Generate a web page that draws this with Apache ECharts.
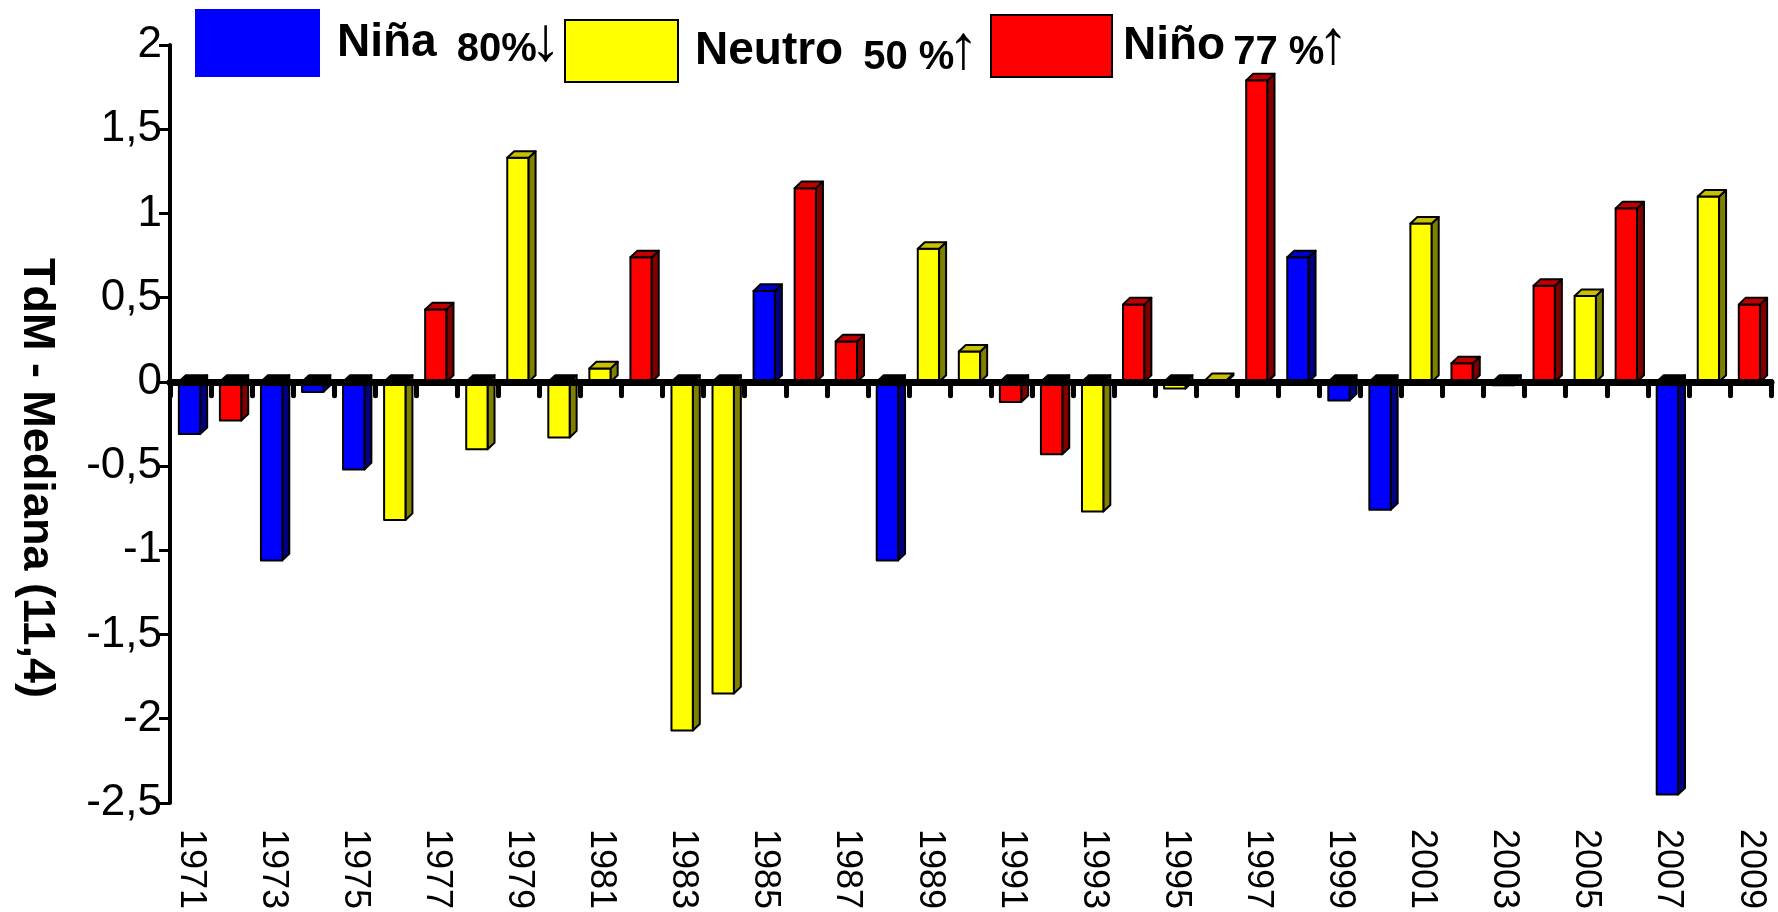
<!DOCTYPE html>
<html><head><meta charset="utf-8">
<script src="https://cdn.jsdelivr.net/npm/echarts@6/dist/echarts.min.js"></script>
<style>html,body{margin:0;padding:0;background:#fff}#c{width:1778px;height:912px}</style>
</head><body><div id="c"></div><script>
// ---- data ----
const years = ['1971','1972','1973','1974','1975','1976','1977','1978','1979','1980',
               '1981','1982','1983','1984','1985','1986','1987','1988','1989','1990',
               '1991','1992','1993','1994','1995','1996','1997','1998','1999','2000',
               '2001','2002','2003','2004','2005','2006','2007','2008','2009'];
const values = [-0.31,-0.23,-1.06,-0.06,-0.52,-0.82, 0.43,-0.40, 1.33,-0.33,
                 0.08, 0.74,-2.07,-1.85, 0.54, 1.15, 0.24,-1.06, 0.79, 0.18,
                -0.12,-0.43,-0.77, 0.46,-0.04, 0.01, 1.79, 0.74,-0.11,-0.76,
                 0.94, 0.11,-0.02, 0.57, 0.51, 1.03,-2.45, 1.10, 0.46];
const phase  = ['Niña','Niño','Niña','Niña','Niña','Neutro','Niño','Neutro','Neutro','Neutro',
                'Neutro','Niño','Neutro','Neutro','Niña','Niño','Niño','Niña','Neutro','Neutro',
                'Niño','Niño','Neutro','Niño','Neutro','Neutro','Niño','Niña','Niña','Niña',
                'Neutro','Niño','Neutro','Niño','Neutro','Niño','Niña','Neutro','Niño'];
const seriesNames = ['Niña','Neutro','Niño'];
const legendPct = ['80%','50 %','77 %'];
const legendArrow = ['↓','↑','↑'];
const yTicks = [-2.5, 2, 0.5]; // min, max, interval
const yTitle = 'TdM - Mediana (11,4)';

// ---- styles ----
const STY = {
  'Niña':   {front:'#0000FF', side:'#000080', top:'#0000C8'},
  'Neutro': {front:'#FFFF00', side:'#808000', top:'#C8C000'},
  'Niño':   {front:'#FF0000', side:'#800000', top:'#C00000'}
};
const SANS = '"Liberation Sans", Arial, sans-serif';

function makeRender(c){
  return function(params, api){
    const i = api.value(0), v = api.value(1);
    const b = api.coord([i, 0]);
    const t = api.coord([i, v]);
    const band = api.size([1,0])[0];
    const w = band*0.52, dx = band*0.17, dy = band*0.16;
    const x0 = b[0]-w/2-1, x1 = x0+w;
    const y0 = b[1], y1 = t[1];
    const poly = (pts, fill)=>({type:'polygon', shape:{points:pts},
      style:{fill:fill, stroke:'#000', lineWidth:2, lineJoin:'round'}});
    if (v >= 0) {
      return {type:'group', children:[
        poly([[x0,y1],[x1,y1],[x1,y0],[x0,y0]], c.front),
        poly([[x1,y1],[x1+dx,y1-dy],[x1+dx,y0-dy],[x1,y0]], c.side),
        poly([[x0,y1],[x0+dx,y1-dy],[x1+dx,y1-dy],[x1,y1]], c.top)
      ]};
    }
    return {type:'group', children:[
      poly([[x1,y0],[x1+dx,y0-dy],[x1+dx,y1-dy],[x1,y1]], c.side),
      poly([[x0,y0],[x1,y0],[x1,y1],[x0,y1]], c.front),
      poly([[x0,y0],[x0+dx,y0-dy],[x1+dx,y0-dy],[x1,y0]], '#000')
    ]};
  };
}

const series = seriesNames.map(name => ({
  name: name, type: 'custom', xAxisIndex: 0, yAxisIndex: 0,
  renderItem: makeRender(STY[name]),
  itemStyle: {color: STY[name].front},
  encode: {x: 0, y: 1},
  z: 2,
  data: years.map((y,i) => phase[i]===name ? [i, values[i]] : null).filter(d => d)
}));

const legendGeom = [
  {left:195, top:9,  w:125, h:68, border:0, tpad:12, gap:20},
  {left:564, top:19, w:113, h:62, border:2, tpad:12, gap:20},
  {left:990, top:14, w:121, h:62, border:2, tpad:6,  gap:8}
];
const legends = seriesNames.map((name, k) => ({
  data: [{name: name, itemStyle: {color: STY[name].front, borderColor:'#000', borderWidth: legendGeom[k].border}}],
  left: legendGeom[k].left, top: legendGeom[k].top, padding: 0,
  itemWidth: legendGeom[k].w, itemHeight: legendGeom[k].h, icon: 'rect',
  selectedMode: false,
  formatter: n => '{n|' + n + '}{p|' + legendPct[k] + '}{a|' + legendArrow[k] + '}',
  textStyle: {
    padding: [0,0,0,legendGeom[k].tpad],
    rich: {
      n: {fontSize: 46, fontWeight:'bold', fontFamily: SANS, color:'#000'},
      p: {fontSize: 40, fontWeight:'bold', fontFamily: SANS, color:'#000', padding:[14,0,0,legendGeom[k].gap]},
      a: {fontSize: 62, fontFamily: SANS, color:'#000', width: 18, align:'center'}
    }
  }
}));

const chart = echarts.init(document.getElementById('c'), null, {renderer:'canvas'});
chart.setOption({
  backgroundColor: '#fff',
  animation: false,
  legend: legends,
  grid: {left:170, right:7, top:45, bottom:107, containLabel:false},
  xAxis: [
    {type:'category', data: years, position:'bottom',
     axisLine:{show:false, onZero:false}, axisTick:{show:false},
     axisLabel:{rotate:-90, interval:1, fontSize:36, fontFamily:SANS, color:'#000', margin:26}},
    {type:'category', data: years, position:'bottom', z:5,
     axisLine:{show:true, onZero:true, lineStyle:{color:'#000', width:7, cap:'round'}},
     axisTick:{show:true, interval:0, length:14, lineStyle:{color:'#000', width:5, cap:'round'}},
     axisLabel:{show:false}}
  ],
  yAxis: {
    type:'value', min:yTicks[0], max:yTicks[1], interval:yTicks[2],
    axisLine:{show:true, lineStyle:{color:'#000', width:4}},
    axisTick:{show:true, length:11, lineStyle:{color:'#000', width:3}},
    splitLine:{show:false},
    axisLabel:{fontSize:44, fontFamily:SANS, color:'#000', margin:8,
      formatter: v => String(v).replace('.', ',')},
    name: yTitle, nameLocation:'middle', nameRotate:-90, nameGap:111,
    nameTextStyle:{fontSize:45, fontWeight:'bold', fontFamily:SANS, color:'#000', padding:[0,0,0,108]}
  },
  series: series
});
</script></body></html>
